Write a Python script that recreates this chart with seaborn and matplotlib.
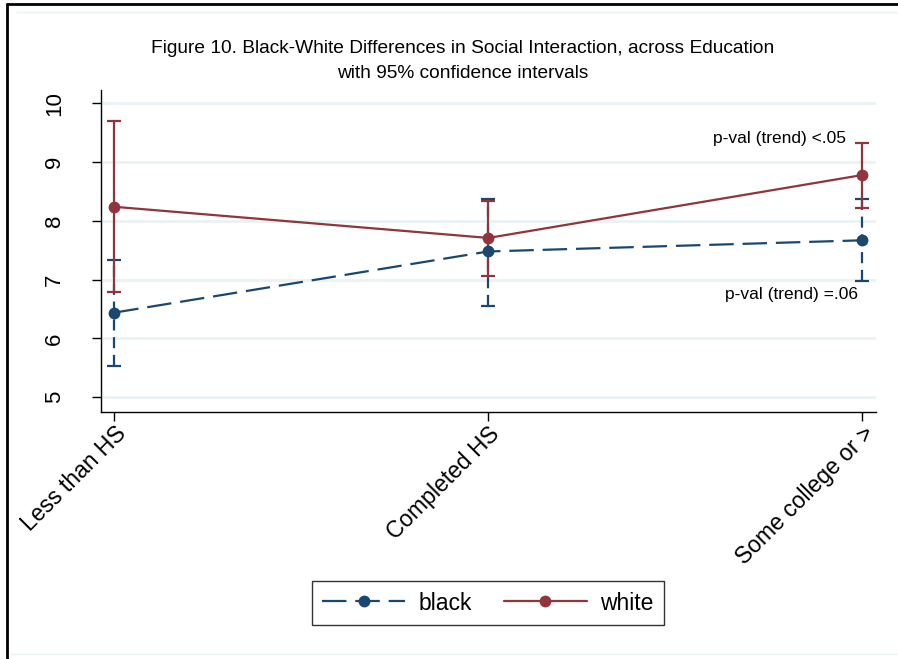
import numpy as np
import pandas as pd
import matplotlib
matplotlib.use("Agg")
import matplotlib.pyplot as plt
from matplotlib.lines import Line2D
import seaborn as sns

# ---- data ----
categories = ["Less than HS", "Completed HS", "Some college or >"]
black_mean = [6.44, 7.48, 7.67]
black_lo = [5.53, 6.56, 6.97]
black_hi = [7.33, 8.38, 8.37]
white_mean = [8.24, 7.71, 8.78]
white_lo = [6.79, 7.06, 8.22]
white_hi = [9.70, 8.34, 9.32]
yticks = [5, 6, 7, 8, 9, 10]
title_text = ("Figure 10. Black-White Differences in Social Interaction, across Education\n"
              "with 95% confidence intervals")
note_white = "p-val (trend) <.05"
note_black = "p-val (trend) =.06"

BLUE = "#1a476f"
RED = "#90353b"
GRID = "#eaf2f3"

sns.set_theme(style="white")
plt.rcParams["font.family"] = ["Liberation Sans", "DejaVu Sans"]
plt.rcParams["text.color"] = "black"
plt.rcParams["xtick.color"] = "black"
plt.rcParams["ytick.color"] = "black"
plt.rcParams["axes.labelcolor"] = "black"

df = pd.DataFrame({
    "x": list(range(len(categories))) * 2,
    "y": black_mean + white_mean,
    "group": ["black"] * 3 + ["white"] * 3,
})

W, H = 898, 659
fig = plt.figure(figsize=(W / 100, H / 100), dpi=100)
fig.patch.set_facecolor("white")
ax = fig.add_axes([100.7 / W, 1 - 411.7 / H, (876 - 100.7) / W, (411.7 - 90) / H])

lw = 1.6
sns.lineplot(data=df, x="x", y="y", hue="group", style="group",
             palette={"black": BLUE, "white": RED},
             dashes={"black": (11, 4), "white": ""},
             markers={"black": "o", "white": "o"},
             markersize=8.5, markeredgewidth=0, linewidth=lw,
             legend=False, ax=ax, zorder=3)

xs = np.arange(len(categories))
for mean, lo, hi, col, ls in [(black_mean, black_lo, black_hi, BLUE, (0, (5, 3))),
                              (white_mean, white_lo, white_hi, RED, "-")]:
    mean = np.array(mean); lo = np.array(lo); hi = np.array(hi)
    eb = ax.errorbar(xs, mean, yerr=[mean - lo, hi - mean], fmt="none",
                     ecolor=col, elinewidth=lw, capsize=5, capthick=lw, zorder=2)
    for bc in eb[2]:
        bc.set_linestyle(ls)

ax.set_xlim(-0.0364, 2.0366)
ax.set_ylim(4.755, 10.226)
ax.set_yticks(yticks)
ax.set_yticklabels([str(t) for t in yticks], rotation=90, va="center", fontsize=16)
ax.set_xticks(xs)
ax.set_xticklabels(categories, rotation=45, ha="right", rotation_mode="anchor", fontsize=16.5)
ax.tick_params(axis="both", which="both", direction="out", length=6.5, width=1,
               color="black", labelcolor="black", bottom=True, left=True)
ax.tick_params(axis="y", pad=19)
ax.tick_params(axis="x", pad=1)
ax.set_xlabel("")
ax.set_ylabel("")
for y in yticks:
    ax.axhline(y, color=GRID, lw=2, zorder=0)
ax.grid(False)
for s in ["top", "right"]:
    ax.spines[s].set_visible(False)
for s in ["left", "bottom"]:
    ax.spines[s].set_color("black")
    ax.spines[s].set_linewidth(1)

ax.text(1.956, 9.405, note_white, ha="right", va="center", fontsize=12.5, color="black")
ax.text(1.988, 6.75, note_black, ha="right", va="center", fontsize=12.5, color="black")

fig.text(463 / W, 1 - 61 / H, title_text, ha="center", va="center", fontsize=13.8,
         linespacing=1.65, color="black")

handles = [
    Line2D([], [], color=BLUE, lw=lw, ls=(0, (11, 4)), marker="o", markersize=8.5,
           markeredgewidth=0),
    Line2D([], [], color=RED, lw=lw, ls="-", marker="o", markersize=8.5, markeredgewidth=0),
]
leg = fig.legend(handles, ["black", "white"], loc="center",
                 bbox_to_anchor=(488 / W, 1 - 603 / H), ncol=2, fontsize=16.5,
                 frameon=True, fancybox=False, handlelength=3.6, handletextpad=0.6,
                 columnspacing=1.4, borderpad=0.45, borderaxespad=0)
leg.get_frame().set_edgecolor("black")
leg.get_frame().set_linewidth(1)
for t in leg.get_texts():
    t.set_color("black")

# outer frame lines (screenshot border)
fig.add_artist(Line2D([6.5 / W, 6.5 / W], [0, 1 - 3.5 / H], transform=fig.transFigure,
                      color="black", lw=2))
fig.add_artist(Line2D([6.5 / W, 1.0], [1 - 3.5 / H, 1 - 3.5 / H], transform=fig.transFigure,
                      color="black", lw=2))
fig.add_artist(Line2D([16 / W, 1], [1 - 12 / H, 1 - 12 / H], transform=fig.transFigure,
                      color=GRID, lw=1))
fig.add_artist(Line2D([10 / W, 1], [1 - 654 / H, 1 - 654 / H], transform=fig.transFigure,
                      color=GRID, lw=1))

fig.savefig("out.png", dpi=100)
